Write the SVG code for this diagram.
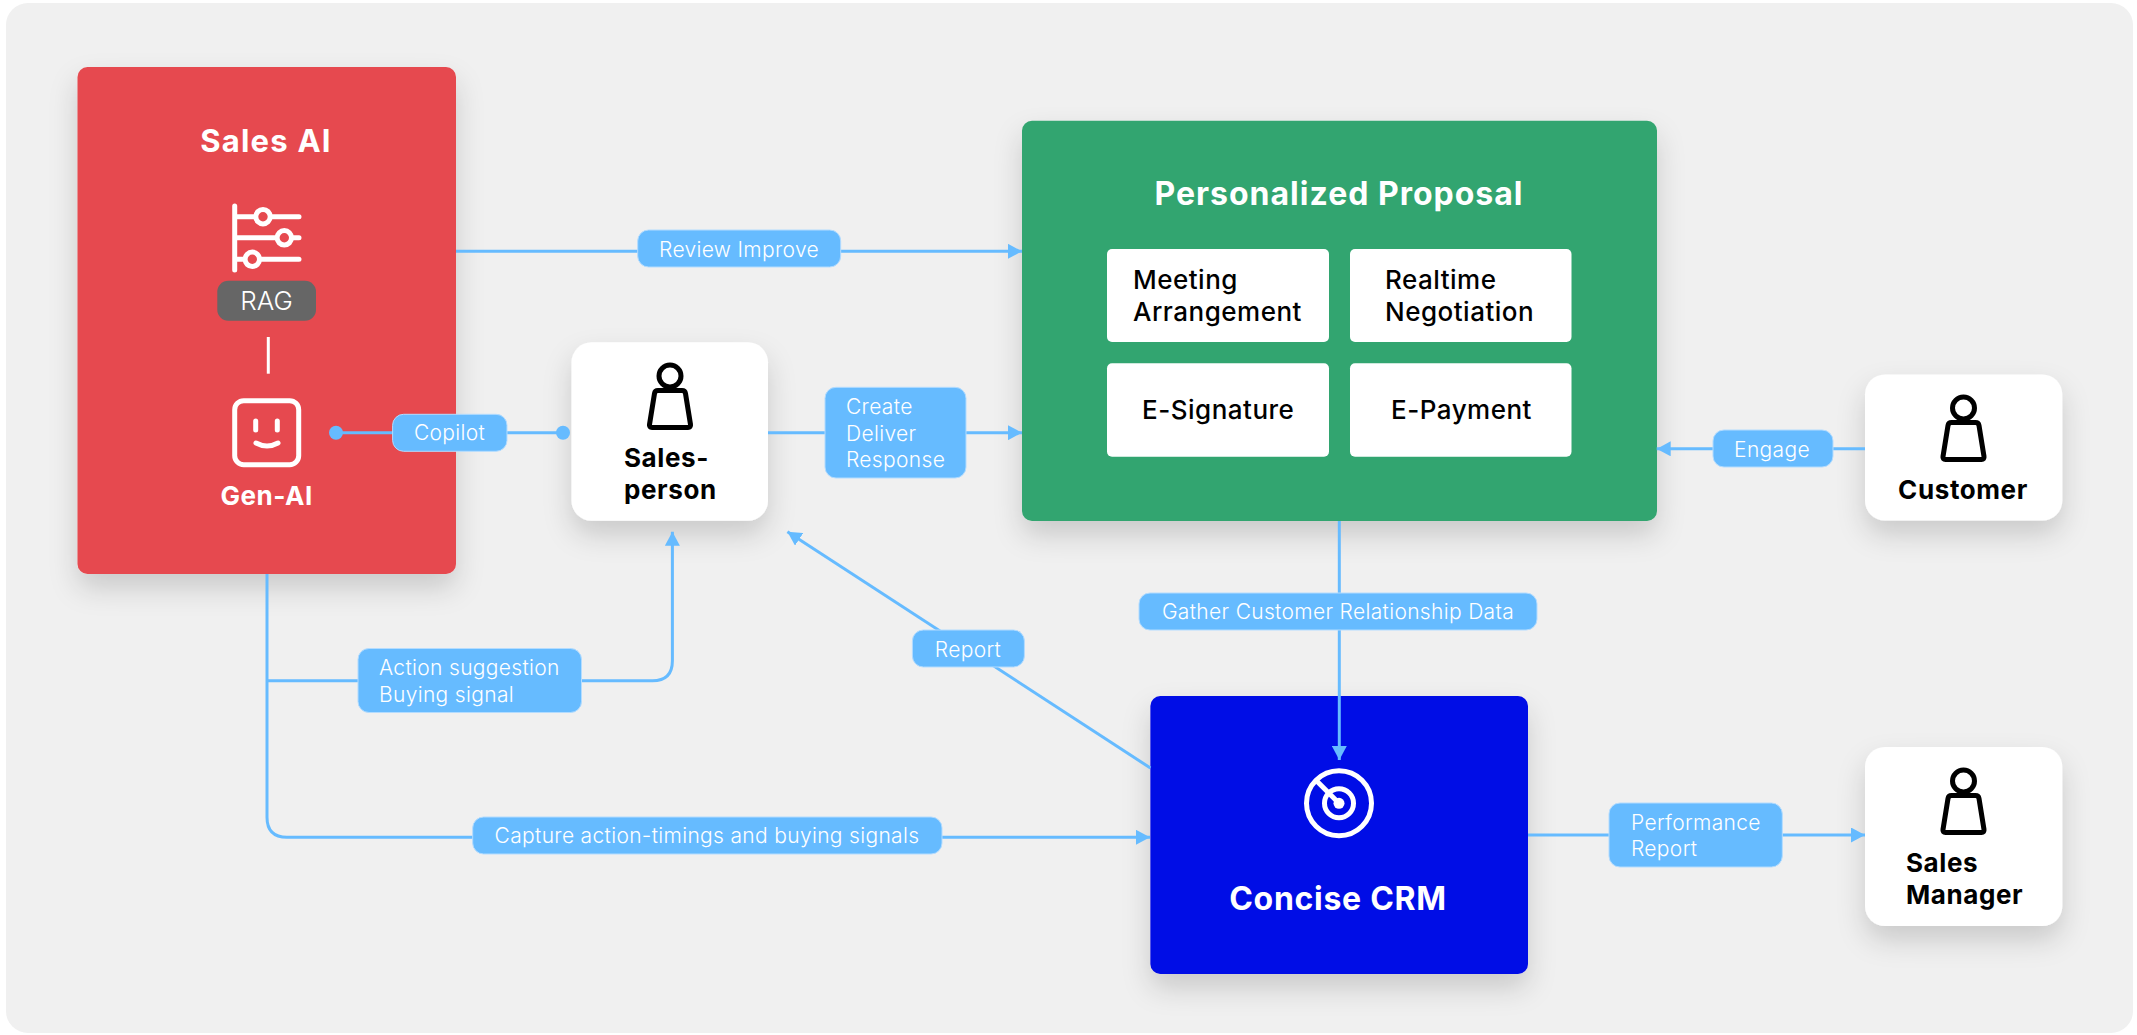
<svg xmlns="http://www.w3.org/2000/svg" width="2137" height="1035" viewBox="0 0 2137 1035">
<style>
text{font-family:Inter,"Noto Sans","Liberation Sans",sans-serif}
.title{font-weight:700;fill:#fff}
.who{font-weight:700;fill:#000;font-size:26px;letter-spacing:.6px}
.item{font-weight:500;fill:#000;font-size:26px;letter-spacing:.5px}
.lab{font-weight:300;fill:#fff;font-size:21px;letter-spacing:.33px}
.pill{fill:#66bbff;stroke:#b3dcff;stroke-width:1}
.line{fill:none;stroke:#66bbff;stroke-width:3}
.card{fill:#fff;filter:url(#sh)}
.box{fill:#fff}
.ic{fill:none;stroke:#fff;stroke-width:5;stroke-linecap:round}
.pers{fill:none;stroke:#000;stroke-width:5;stroke-linejoin:round}
.head{fill:#66bbff}
</style>
<defs>
<filter id="sh" x="-30%" y="-30%" width="160%" height="170%"><feDropShadow dx="0" dy="14" stdDeviation="14" flood-color="#000" flood-opacity=".16"/></filter>
<g id="person"><circle cx="0" cy="0" r="11"/><path d="M-12 14.5H12Q15 14.5 15.5 17.5L20.5 48.5Q21 51.500 18 51.500H-18Q-21 51.500 -20.500 48.500L-15.500 17.500Q-15 14.500 -12 14.500Z"/></g>
<marker id="ah" viewBox="0 0 14 15" refX="14" refY="7.500" markerWidth="14" markerHeight="15" markerUnits="userSpaceOnUse" orient="auto"><path d="M0 0L14 7.500L0 15Z" fill="#66bbff"/></marker>
</defs>
<rect id="panel" x="6" y="3" width="2127" height="1030" rx="22" fill="#f0f0f0"/>

<g id="sales-ai">
<rect x="77.500" y="67" width="378.500" height="507" rx="10" fill="#e64a4f" filter="url(#sh)"/>
<text class="title" x="266" y="152" font-size="31" letter-spacing="1.2" text-anchor="middle">Sales AI</text>
<g class="ic">
<path d="M234.700 206V270M234.700 216.700H299M234.700 237.800H299M234.700 259.300H299"/>
<circle cx="263" cy="216.700" r="7.200" fill="#e64a4f"/><circle cx="284.300" cy="237.800" r="7.200" fill="#e64a4f"/><circle cx="252.300" cy="259.300" r="7.200" fill="#e64a4f"/>
</g>
<rect x="217.300" y="280.700" width="98.700" height="40" rx="11" fill="#666"/>
<text x="266.500" y="310" font-size="26" font-weight="300" fill="#fff" text-anchor="middle">RAG</text>
<path d="M268.300 337V373.700" stroke="#fff" stroke-width="3"/>
<g class="ic">
<rect x="234.700" y="400.700" width="64" height="64" rx="9"/>
<path d="M255.700 421V430M277.300 421V430M256 443Q267 449 278 443"/>
</g>
<text class="title" x="266.700" y="504.500" font-size="26" letter-spacing=".5" text-anchor="middle">Gen-AI</text>
</g>

<g id="salesperson">
<rect class="card" x="571.500" y="342.300" width="196.500" height="178.400" rx="20"/>
<use href="#person" class="pers" x="670" y="376"/>
<text class="who" x="624" y="467.300">Sales-</text>
<text class="who" x="624" y="498.500">person</text>
</g>

<g id="proposal">
<rect x="1022" y="120.700" width="635" height="400.300" rx="10" fill="#33a56f" filter="url(#sh)"/>
<text class="title" x="1339" y="205" font-size="32" letter-spacing="1" text-anchor="middle">Personalized Proposal</text>
<rect class="box" x="1107" y="249" width="222" height="93" rx="5"/>
<rect class="box" x="1350" y="249" width="221.500" height="93" rx="5"/>
<rect class="box" x="1107" y="363.300" width="222" height="93.400" rx="5"/>
<rect class="box" x="1350" y="363.300" width="221.500" height="93.400" rx="5"/>
<text class="item" x="1133" y="289">Meeting</text>
<text class="item" x="1133" y="321">Arrangement</text>
<text class="item" x="1385" y="289">Realtime</text>
<text class="item" x="1385" y="321">Negotiation</text>
<text class="item" x="1142" y="419.300">E-Signature</text>
<text class="item" x="1391" y="419.300">E-Payment</text>
</g>

<g id="customer">
<rect class="card" x="1865" y="374.400" width="197.300" height="146.200" rx="20"/>
<use href="#person" class="pers" x="1963.500" y="408"/>
<text class="who" x="1963" y="499" text-anchor="middle" letter-spacing=".9">Customer</text>
</g>

<g id="crm">
<rect x="1150.400" y="696" width="377.600" height="278" rx="10" fill="#0008e6" filter="url(#sh)"/>
<g class="ic" style="stroke-linecap:butt">
<circle cx="1339" cy="803.300" r="32.500"/><circle cx="1339" cy="803.300" r="14.500"/>
<path d="M1339 803.300L1316 780.300"/>
</g>
<circle cx="1339" cy="803.300" r="5.500" fill="#fff"/>
<text class="title" x="1338" y="910" font-size="32" letter-spacing=".7" text-anchor="middle">Concise CRM</text>
</g>

<g id="sales-manager">
<rect class="card" x="1865" y="747" width="197.300" height="179" rx="20"/>
<use href="#person" class="pers" x="1963.500" y="781"/>
<text class="who" x="1906" y="872">Sales</text>
<text class="who" x="1906" y="904">Manager</text>
</g>

<g id="connectors">
<path class="line" d="M456 251.300H1022" marker-end="url(#ah)"/>
<path class="line" d="M336 432.700H563"/>
<circle class="head" cx="336" cy="432.700" r="7"/><circle class="head" cx="563" cy="432.700" r="7"/>
<path class="line" d="M768 432.700H1022" marker-end="url(#ah)"/>
<path class="line" d="M1865 448.800H1656.700" marker-end="url(#ah)"/>
<path class="line" d="M1339.300 521V760" marker-end="url(#ah)"/>
<path class="line" d="M1150.400 768L787.400 531.700" marker-end="url(#ah)"/>
<path class="line" d="M267 574V817.300Q267 837.300 287 837.300H1150" marker-end="url(#ah)"/>
<path class="line" d="M267 680.700H652.400Q672.400 680.700 672.400 660.700V531.700" marker-end="url(#ah)"/>
<path class="line" d="M1528 835H1865" marker-end="url(#ah)"/>

<rect class="pill" x="637.700" y="230" width="203" height="37" rx="11"/>
<text class="lab" x="739" y="256.500" text-anchor="middle">Review Improve</text>
<rect class="pill" x="392.600" y="414.300" width="114.400" height="37" rx="11"/>
<text class="lab" x="449.500" y="440" text-anchor="middle">Copilot</text>
<rect class="pill" x="825" y="387.300" width="141" height="90.700" rx="11"/>
<text class="lab" x="846" y="414">Create</text>
<text class="lab" x="846" y="440.500">Deliver</text>
<text class="lab" x="846" y="467">Response</text>
<rect class="pill" x="1713" y="430" width="120" height="37" rx="11"/>
<text class="lab" x="1772" y="457" text-anchor="middle">Engage</text>
<rect class="pill" x="1139" y="593" width="398" height="37" rx="11"/>
<text class="lab" x="1338" y="619" text-anchor="middle">Gather Customer Relationship Data</text>
<rect class="pill" x="912.400" y="630" width="112" height="37" rx="11"/>
<text class="lab" x="968" y="657" text-anchor="middle">Report</text>
<rect class="pill" x="358" y="648.500" width="223.500" height="64" rx="11"/>
<text class="lab" x="379" y="675">Action suggestion</text>
<text class="lab" x="379" y="702">Buying signal</text>
<rect class="pill" x="472.700" y="817" width="469.300" height="37" rx="11"/>
<text class="lab" x="707" y="843" text-anchor="middle">Capture action-timings and buying signals</text>
<rect class="pill" x="1609" y="803" width="173.300" height="64" rx="11"/>
<text class="lab" x="1631" y="829.500">Performance</text>
<text class="lab" x="1631" y="856">Report</text>
</g>
</svg>
